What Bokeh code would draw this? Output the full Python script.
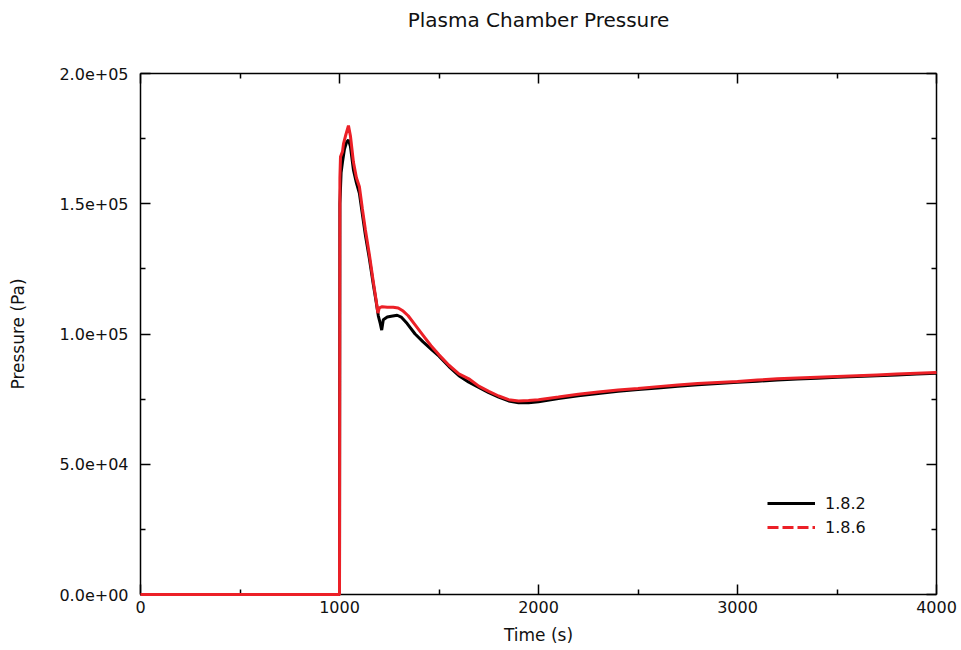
import numpy as np
from bokeh.plotting import figure
from bokeh.models import (Range1d, FixedTicker, LinearAxis, Legend, LegendItem,
                          ColumnDataSource, Title)
from bokeh.embed import file_html
from bokeh.resources import INLINE

# ---- data ----
time_182 = [0, 1000, 1002, 1008, 1015, 1025, 1035, 1045, 1055, 1070, 1085, 1100, 1115,
            1130, 1150, 1170, 1185, 1195, 1205, 1212, 1220, 1240, 1260, 1290, 1310,
            1340, 1380, 1420, 1470, 1500, 1550, 1600, 1650, 1700, 1750, 1800, 1850,
            1900, 1950, 2000, 2100, 2200, 2300, 2400, 2500, 2600, 2700, 2800, 2900,
            3000, 3100, 3200, 3300, 3400, 3500, 3600, 3700, 3800, 3900, 4000]
pres_182 = [0, 0, 150000, 162000, 166000, 171000, 173500, 174500, 172000, 163000, 158000,
            154000, 146000, 138000, 129000, 119000, 112000, 107000, 104000, 101500, 105500,
            106500, 106800, 107200, 106500, 104000, 100000, 97000, 93500, 91500, 87500,
            84000, 81500, 79500, 77500, 75800, 74300, 73600, 73600, 74000, 75200, 76300,
            77200, 78000, 78700, 79300, 79900, 80500, 81000, 81500, 81900, 82300, 82700,
            83000, 83400, 83700, 84000, 84300, 84600, 84900]

time_186 = [0, 1000, 1002, 1005, 1015, 1020, 1030, 1045, 1055, 1070, 1085, 1100, 1115,
            1130, 1150, 1170, 1185, 1193, 1200, 1215, 1240, 1270, 1295, 1320, 1345,
            1380, 1420, 1460, 1500, 1550, 1600, 1650, 1700, 1750, 1800, 1850, 1900,
            1950, 2000, 2100, 2200, 2300, 2400, 2500, 2600, 2700, 2800, 2900, 3000,
            3100, 3200, 3300, 3400, 3500, 3600, 3700, 3800, 3900, 4000]
pres_186 = [0, 0, 160000, 168000, 170000, 173000, 176000, 180000, 176000, 166000, 160000,
            156500, 148000, 140000, 130500, 120000, 112500, 108000, 110000, 110500, 110300,
            110300, 110000, 108800, 107000, 103500, 99500, 95500, 92000, 88000, 84700,
            82800, 80000, 78000, 76200, 74800, 74300, 74500, 74800, 75800, 76900, 77700,
            78500, 79100, 79800, 80400, 81000, 81400, 81800, 82300, 82800, 83100, 83400,
            83700, 84000, 84300, 84600, 84900, 85200]

chart_title = "Plasma Chamber Pressure"
series_labels = ["1.8.2", "1.8.6"]
x_ticks = [0, 1000, 2000, 3000, 4000]
x_minor = [500, 1500, 2500, 3500]
y_ticks = [0, 50000, 100000, 150000, 200000]
y_minor = [25000, 75000, 125000, 175000]
y_tick_labels = ["0.0e+00", "5.0e+04", "1.0e+05", "1.5e+05", "2.0e+05"]

FONT = "DejaVu Sans"
BLACK = "#000000"
RED = "#ec2027"

p = figure(width=961, height=650, output_backend="svg", toolbar_location=None,
           x_range=Range1d(0, 4000), y_range=Range1d(0, 200000),
           min_border_left=140, min_border_right=25, min_border_top=73, min_border_bottom=56,
           title=None,
           x_axis_label="Time (s)", y_axis_label="Pressure (Pa)")

p.xgrid.visible = False
p.ygrid.visible = False
p.outline_line_color = None
p.background_fill_color = "white"
p.border_fill_color = "white"

xt = FixedTicker(ticks=x_ticks, minor_ticks=x_minor)
yt = FixedTicker(ticks=y_ticks, minor_ticks=y_minor)


def style_axis(ax, show_labels):
    ax.axis_line_color = "black"
    ax.axis_line_width = 1.5
    ax.major_tick_line_color = "black"
    ax.major_tick_line_width = 1.5
    ax.minor_tick_line_color = "black"
    ax.minor_tick_line_width = 1.5
    ax.major_tick_in = 10
    ax.major_tick_out = 0
    ax.minor_tick_in = 5
    ax.minor_tick_out = 0
    if show_labels:
        ax.major_label_text_font = FONT
        ax.major_label_text_font_size = "16px"
        ax.major_label_text_color = "#111111"
        ax.axis_label_text_font = FONT
        ax.axis_label_text_font_size = "17px"
        ax.axis_label_text_font_style = "normal"
        ax.axis_label_text_color = "#111111"
    else:
        ax.major_label_text_font_size = "0px"
        ax.major_label_standoff = 0


xa = p.xaxis[0]
xa.ticker = xt
style_axis(xa, True)
xa.major_label_standoff = 6
xa.axis_label_standoff = 9

ya = p.yaxis[0]
ya.ticker = yt
style_axis(ya, True)
ya.major_label_overrides = {t: s for t, s in zip(y_ticks, y_tick_labels)}
ya.major_label_standoff = 12
ya.axis_label_standoff = 28

top_ax = LinearAxis(ticker=FixedTicker(ticks=x_ticks, minor_ticks=x_minor))
style_axis(top_ax, False)
p.add_layout(top_ax, "above")

right_ax = LinearAxis(ticker=FixedTicker(ticks=y_ticks, minor_ticks=y_minor))
style_axis(right_ax, False)
p.add_layout(right_ax, "right")

# spacer between the frame and the title, then the title itself (stacked outward)
spacer = Title(text=" ", text_font=FONT, text_font_size="19px", standoff=18)
p.add_layout(spacer, "above")
main_title = Title(text=chart_title, align="center", text_font=FONT,
                   text_font_style="normal", text_font_size="20px",
                   text_color="#111111", standoff=0)
p.add_layout(main_title, "above")

src_182 = ColumnDataSource(dict(t=time_182, p=pres_182))
src_186 = ColumnDataSource(dict(t=time_186, p=pres_186))

r182 = p.line("t", "p", source=src_182, line_color=BLACK, line_width=3, level="overlay")
r186 = p.line("t", "p", source=src_186, line_color=RED, line_width=3, level="overlay")

# legend-only glyph for the dashed red series (a single NaN point: draws nothing in the plot)
leg_186 = p.line(x=np.array([np.nan]), y=np.array([np.nan]),
                 line_color=RED, line_width=3, line_dash="11 4")

legend = Legend(items=[LegendItem(label=series_labels[0], renderers=[r182]),
                       LegendItem(label=series_labels[1], renderers=[leg_186])],
                location=(627, 57))
legend.label_text_font = FONT
legend.label_text_font_size = "16px"
legend.label_text_color = "#111111"
legend.glyph_width = 48
legend.glyph_height = 20
legend.label_height = 20
legend.label_standoff = 10
legend.spacing = 4
legend.padding = 0
legend.margin = 0
legend.border_line_color = None
legend.background_fill_alpha = 0
p.add_layout(legend)

open("out.html", "w").write(file_html(p, INLINE))
